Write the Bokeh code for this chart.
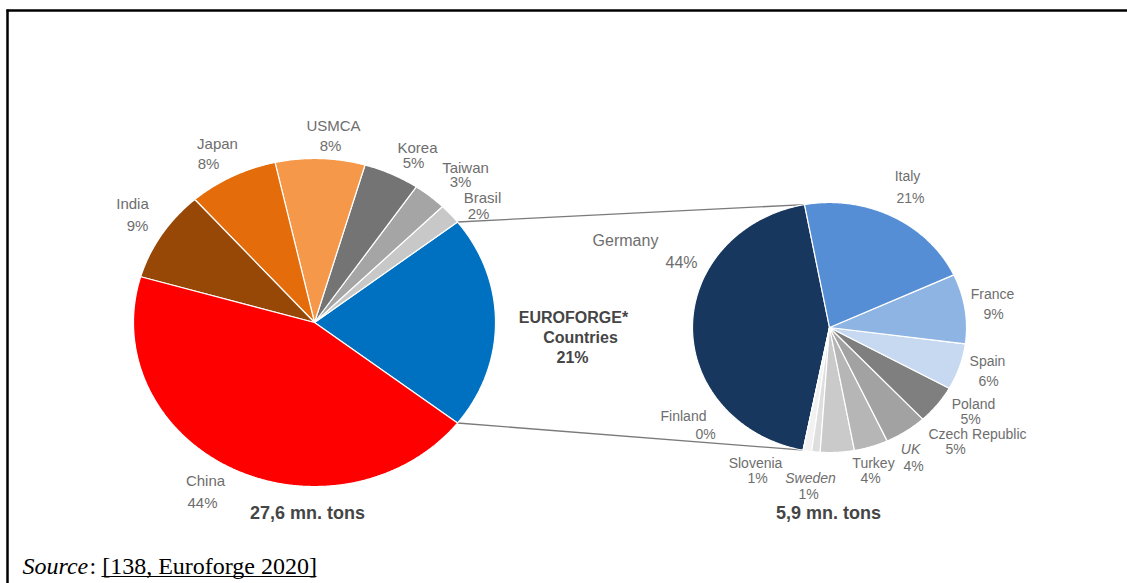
import numpy as np
from bokeh.plotting import figure
from bokeh.models import Range1d
from bokeh.embed import file_html
from bokeh.resources import INLINE
from bokeh.core.properties import value

# ---------------- data ----------------
world_labels = ["EUROFORGE* Countries", "Brasil", "Taiwan", "Korea", "USMCA", "Japan", "India", "China"]
world_share = [21, 2, 3, 5, 8, 8, 9, 44]
world_colors = ["#0070C0", "#C8C8C8", "#A5A5A5", "#747474", "#F6984A", "#E46C0A", "#974806", "#FF0000"]
world_total = "27,6 mn. tons"

euro_labels = ["Germany", "Finland", "Slovenia", "Sweden", "Turkey", "UK", "Czech Republic",
               "Poland", "Spain", "France", "Italy"]
euro_share = [44, 0, 1, 1, 4, 4, 5, 5, 6, 9, 21]
euro_colors = ["#17375E", "#FFFFFF", "#F2F2F2", "#DEDEDE", "#CACACA", "#B6B6B6", "#A2A2A2",
               "#7F7F7F", "#C6D9F1", "#8EB4E3", "#558ED5"]
euro_total = "5,9 mn. tons"

source_text = "[138, Euroforge 2020]"

# ---------------- layout (pixel-like coordinates) ----------------
L_CX, L_CY, L_RX, L_RY = 314.0, 322.0, 181.0, 164.0
R_CX, R_CY, R_RX, R_RY = 829.0, 327.0, 137.0, 125.0
L_START = -180.0 * world_share[0] / sum(world_share)   # EUROFORGE slice centred on the right
R_START = 100.5

# label anchor positions (name, percent)
world_name_pos = [(573, 317), (482, 197), (465, 167), (417, 147), (333, 125), (217, 143), (132, 203), (205, 480)]
world_pct_pos = [(572, 357), (478, 213), (460, 181), (413, 162), (330, 145), (208, 163), (137, 225), (202, 502)]
euro_name_pos = [(625, 240), (683, 415), (755, 462), (810, 477), (873, 462), (910, 448), (977, 433),
                 (973, 403), (987, 360), (992, 293), (907, 175)]
euro_pct_pos = [(681, 262), (705, 433), (757, 477), (808, 493), (870, 477), (913, 465), (955, 448),
                (970, 418), (988, 380), (993, 313), (910, 197)]
euro_italic = {"UK", "Sweden"}


def pie_patches(shares, start_deg, cx, cy, rx, ry):
    total = float(sum(shares))
    xs, ys, bounds = [], [], []
    a0 = start_deg
    for s in shares:
        a1 = a0 + 360.0 * s / total
        n = max(2, int(abs(a1 - a0) * 2) + 2)
        t = np.radians(np.linspace(a0, a1, n))
        xs.append([cx] + list(cx + rx * np.cos(t)))
        ys.append([cy] + list(cy - ry * np.sin(t)))
        bounds.append((a0, a1))
        a0 = a1
    return xs, ys, bounds


def ell_point(cx, cy, rx, ry, deg):
    t = np.radians(deg)
    return cx + rx * np.cos(t), cy - ry * np.sin(t)


W, H = 1127, 583
p = figure(width=W, height=H, x_range=Range1d(0, W), y_range=Range1d(H, 0),
           output_backend="svg", toolbar_location=None, min_border=0,
           x_axis_type=None, y_axis_type=None, outline_line_color=None)
p.background_fill_color = "white"
p.border_fill_color = "white"

# frame lines (top + left)
p.segment(x0=[6, 7], y0=[10, 9], x1=[W, 7], y1=[10, H], line_color="black", line_width=2.5)

# connector lines
_, _, lb = pie_patches(world_share, L_START, L_CX, L_CY, L_RX, L_RY)
_, _, rb = pie_patches(euro_share, R_START, R_CX, R_CY, R_RX, R_RY)
lt = ell_point(L_CX, L_CY, L_RX, L_RY, lb[0][1])
lbm = ell_point(L_CX, L_CY, L_RX, L_RY, lb[0][0])
rt = ell_point(R_CX, R_CY, R_RX, R_RY, rb[0][0])
rbm = ell_point(R_CX, R_CY, R_RX, R_RY, rb[0][1])
p.segment(x0=[lt[0], lbm[0]], y0=[lt[1], lbm[1]], x1=[rt[0], rbm[0]], y1=[rt[1], rbm[1]],
          line_color="#7A7A7A", line_width=1.3)

# pies
xs, ys, _ = pie_patches(world_share, L_START, L_CX, L_CY, L_RX, L_RY)
p.patches(xs, ys, fill_color=world_colors, line_color="white", line_width=1.2)
xs, ys, _ = pie_patches(euro_share, R_START, R_CX, R_CY, R_RX, R_RY)
p.patches(xs, ys, fill_color=euro_colors, line_color="white", line_width=1.2)

FONT = value("Liberation Sans")
GRAY = "#6E6E6E"
DARK = "#454545"

# world labels
for i, lab in enumerate(world_labels):
    pct = f"{world_share[i]}%"
    if i == 0:
        words = lab.split(" ")
        p.text(x=[world_name_pos[i][0]], y=[world_name_pos[i][1]], text=[words[0]],
               text_font=FONT, text_font_size="16px", text_font_style="bold", text_color=DARK,
               text_align="center", text_baseline="middle")
        p.text(x=[world_name_pos[i][0] + 7], y=[world_name_pos[i][1] + 20], text=[words[1]],
               text_font=FONT, text_font_size="16px", text_font_style="bold", text_color=DARK,
               text_align="center", text_baseline="middle")
        p.text(x=[world_pct_pos[i][0]], y=[world_pct_pos[i][1]], text=[pct],
               text_font=FONT, text_font_size="16px", text_font_style="bold", text_color=DARK,
               text_align="center", text_baseline="middle")
    else:
        p.text(x=[world_name_pos[i][0]], y=[world_name_pos[i][1]], text=[lab],
               text_font=FONT, text_font_size="15px", text_color=GRAY,
               text_align="center", text_baseline="middle")
        p.text(x=[world_pct_pos[i][0]], y=[world_pct_pos[i][1]], text=[pct],
               text_font=FONT, text_font_size="15px", text_color=GRAY,
               text_align="center", text_baseline="middle")

for i, lab in enumerate(euro_labels):
    style = "italic" if lab in euro_italic else "normal"
    size = "16px" if lab == "Germany" else "14px"
    p.text(x=[euro_name_pos[i][0]], y=[euro_name_pos[i][1]], text=[lab],
           text_font=FONT, text_font_size=size, text_font_style=style, text_color=GRAY,
           text_align="center", text_baseline="middle")
    p.text(x=[euro_pct_pos[i][0]], y=[euro_pct_pos[i][1]], text=[f"{euro_share[i]}%"],
           text_font=FONT, text_font_size=size, text_color=GRAY,
           text_align="center", text_baseline="middle")

# totals
p.text(x=[307], y=[512], text=[world_total], text_font=FONT, text_font_size="18px",
       text_font_style="bold", text_color=DARK, text_align="center", text_baseline="middle")
p.text(x=[828], y=[512], text=[euro_total], text_font=FONT, text_font_size="18px",
       text_font_style="bold", text_color=DARK, text_align="center", text_baseline="middle")

# source line
SERIF = value("Liberation Serif")
p.text(x=[22], y=[565], text=["Source"], text_font=SERIF, text_font_size="24px",
       text_font_style="italic", text_color="black", text_align="left", text_baseline="middle")
p.text(x=[89], y=[565], text=[": " + source_text], text_font=SERIF, text_font_size="24px",
       text_color="black", text_align="left", text_baseline="middle")
p.segment(x0=[101], y0=[576], x1=[316], y1=[576], line_color="black", line_width=1.2)

open("out.html", "w").write(file_html(p, INLINE))
